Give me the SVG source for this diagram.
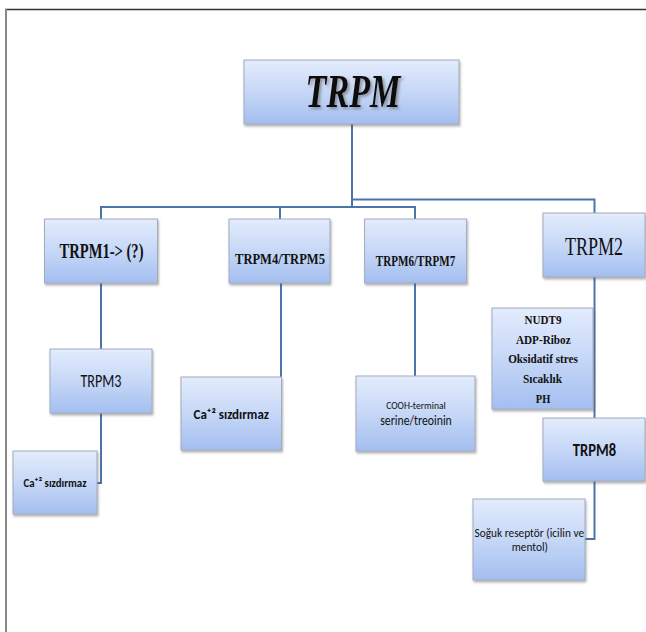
<svg xmlns="http://www.w3.org/2000/svg" width="646" height="632" viewBox="0 0 646 632">
<defs>
<linearGradient id="g" x1="0" y1="0" x2="0" y2="1">
<stop offset="0" stop-color="#e3ecfc"/>
<stop offset="0.55" stop-color="#c3d5f6"/>
<stop offset="1" stop-color="#a3bef0"/>
</linearGradient>
<filter id="sh" x="-10%" y="-10%" width="125%" height="130%">
<feDropShadow dx="1" dy="2" stdDeviation="1.2" flood-color="#555" flood-opacity="0.45"/>
</filter>
<filter id="tsh" x="-10%" y="-10%" width="130%" height="130%">
<feDropShadow dx="2" dy="2" stdDeviation="1.5" flood-color="#666" flood-opacity="0.6"/>
</filter>
<style>
.box{fill:url(#g);stroke:#a3acbd;stroke-width:1;filter:url(#sh)}
.c{fill:none;stroke:#4a74aa;stroke-width:2}
.tm{font-family:"Liberation Serif","Times New Roman",serif;fill:#111}
.tb{font-family:"Liberation Serif","Times New Roman",serif;font-weight:bold;fill:#111}
.cal{font-family:Carlito,"Liberation Sans",Arial,sans-serif;fill:#111}
.calb{font-family:Carlito,"Liberation Sans",Arial,sans-serif;font-weight:bold;fill:#111}
</style>
</defs>
<rect x="0" y="0" width="646" height="632" fill="#fff"/>
<g id="frame">
<line x1="5" y1="9.5" x2="646" y2="9.5" stroke="#333" stroke-width="1.5"/>
<line x1="6" y1="9" x2="6" y2="632" stroke="#888" stroke-width="2"/>
</g>
<g id="connectors">
<path class="c" d="M352,124 V207"/>
<path class="c" d="M101,219 V207 H415 V219"/>
<path class="c" d="M280,207 V219"/>
<path class="c" d="M352,199.5 H594.5 V213"/>
<path class="c" d="M101,283 V349"/>
<path class="c" d="M101,413 V483 H97"/>
<path class="c" d="M281,283 V413 H278"/>
<path class="c" d="M415,283 V376"/>
<path class="c" d="M594.5,277 V418"/>
<path class="c" d="M594.5,481 V539 H585"/>
</g>
<g id="trpm">
<rect class="box" x="244" y="60" width="215" height="64"/>
<text class="tb" x="353" y="106.5" font-size="46" font-style="italic" text-anchor="middle" textLength="95" lengthAdjust="spacingAndGlyphs" filter="url(#tsh)">TRPM</text>
</g>
<g id="trpm1">
<rect class="box" x="44.5" y="219" width="113" height="64"/>
<text class="tb" x="101.5" y="258" font-size="21" text-anchor="middle" textLength="84" lengthAdjust="spacingAndGlyphs">TRPM1-&gt; (?)</text>
</g>
<g id="trpm45">
<rect class="box" x="229" y="219" width="101" height="64"/>
<text class="tb" x="280" y="264" font-size="15.5" text-anchor="middle" textLength="90" lengthAdjust="spacingAndGlyphs">TRPM4/TRPM5</text>
</g>
<g id="trpm67">
<rect class="box" x="364.6" y="219" width="102" height="64"/>
<text class="tb" x="415.5" y="265.5" font-size="15" text-anchor="middle" textLength="79.5" lengthAdjust="spacingAndGlyphs">TRPM6/TRPM7</text>
</g>
<g id="trpm2">
<rect class="box" x="543" y="213" width="102" height="64"/>
<text class="tm" x="594" y="255" font-size="25" text-anchor="middle" textLength="58" lengthAdjust="spacingAndGlyphs">TRPM2</text>
</g>
<g id="trpm3">
<rect class="box" x="50" y="349" width="102" height="64"/>
<text class="cal" x="101" y="387.3" font-size="18" text-anchor="middle" textLength="41" lengthAdjust="spacingAndGlyphs">TRPM3</text>
</g>
<g id="ca1">
<rect class="box" x="13" y="451" width="84" height="63"/>
<text class="calb" x="23.5" y="487" font-size="12.5" textLength="63" lengthAdjust="spacingAndGlyphs">Ca⁺² sızdırmaz</text>
</g>
<g id="ca2">
<rect class="box" x="181" y="377" width="100.5" height="73"/>
<text class="calb" x="193.6" y="418.5" font-size="14.5" textLength="75.4" lengthAdjust="spacingAndGlyphs">Ca⁺² sızdırmaz</text>
</g>
<g id="cooh">
<rect class="box" x="356" y="376" width="119" height="75"/>
<text class="cal" x="416" y="409" font-size="10.5" text-anchor="middle" textLength="59.5" lengthAdjust="spacingAndGlyphs">COOH-terminal</text>
<text class="cal" x="416" y="425" font-size="14" text-anchor="middle" textLength="71.6" lengthAdjust="spacingAndGlyphs">serine/treoinin</text>
</g>
<g id="nudt9">
<rect class="box" x="492" y="308" width="101" height="101"/>
<text class="tb" x="543" y="324" font-size="13.5" text-anchor="middle" textLength="37" lengthAdjust="spacingAndGlyphs">NUDT9</text>
<text class="tb" x="543.3" y="343.5" font-size="13.5" text-anchor="middle" textLength="54.7" lengthAdjust="spacingAndGlyphs">ADP-Riboz</text>
<text class="tb" x="543" y="363.3" font-size="13.5" text-anchor="middle" textLength="69.7" lengthAdjust="spacingAndGlyphs">Oksidatif stres</text>
<text class="tb" x="542.5" y="383" font-size="13.5" text-anchor="middle" textLength="39" lengthAdjust="spacingAndGlyphs">Sıcaklık</text>
<text class="tb" x="543" y="402.7" font-size="13.5" text-anchor="middle" textLength="14.5" lengthAdjust="spacingAndGlyphs">PH</text>
</g>
<g id="trpm8">
<rect class="box" x="543" y="418" width="102" height="63"/>
<text class="calb" x="594.4" y="455.5" font-size="19" text-anchor="middle" textLength="43.3" lengthAdjust="spacingAndGlyphs">TRPM8</text>
</g>
<g id="soguk">
<rect class="box" x="473" y="499" width="112" height="81"/>
<text class="cal" x="529.3" y="536.7" font-size="13" text-anchor="middle" textLength="109.5" lengthAdjust="spacingAndGlyphs">Soğuk reseptör (icilin ve</text>
<text class="cal" x="529.9" y="550.7" font-size="13" text-anchor="middle" textLength="36.3" lengthAdjust="spacingAndGlyphs">mentol)</text>
</g>
</svg>
